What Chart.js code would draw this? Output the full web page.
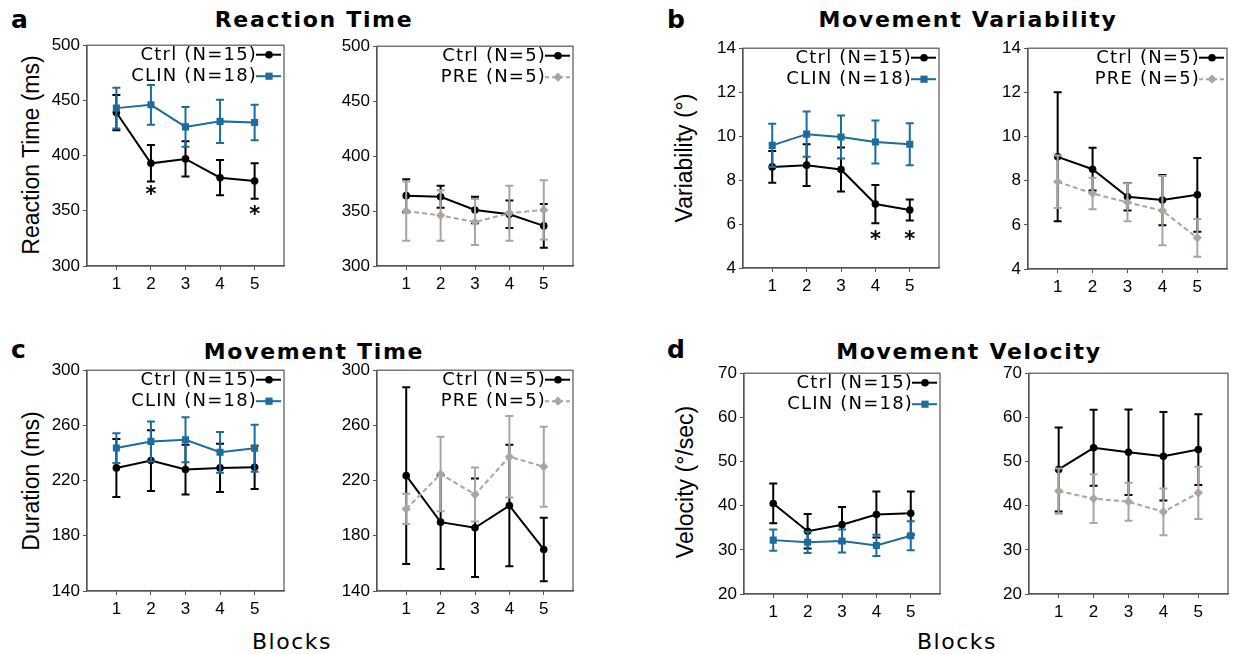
<!DOCTYPE html>
<html>
<head>
<meta charset="utf-8">
<script src="https://cdn.jsdelivr.net/npm/chart.js@4.4.1/dist/chart.umd.min.js"></script>
<style>
  body { margin: 0; background: #fff; width: 1236px; height: 654px; position: relative; overflow: hidden; }
  .box { position: absolute; }
  .lbl { position: absolute; white-space: nowrap; color: #000; }
  .letter { font: bold 25px 'DejaVu Sans', sans-serif; line-height: 25px; }
  .title { font: bold 22px 'DejaVu Sans', sans-serif; letter-spacing: 1.7px; transform: translate(-50%, -50%); }
  .ytitle { font: 23px 'Liberation Sans', Arial, sans-serif; transform: translate(-50%, -50%) rotate(-90deg); }
  .xtitle { font: 22px 'DejaVu Sans', sans-serif; letter-spacing: 1.5px; transform: translate(-50%, -50%); }
</style>
</head>
<body>
<div class="lbl letter" style="left:11px;top:7px">a</div>
<div class="lbl letter" style="left:667px;top:7px">b</div>
<div class="lbl letter" style="left:11px;top:337px">c</div>
<div class="lbl letter" style="left:667px;top:337px">d</div>

<div class="lbl title" style="left:314px;top:19px">Reaction Time</div>
<div class="lbl title" style="left:968px;top:19px">Movement Variability</div>
<div class="lbl title" style="left:314px;top:351px">Movement Time</div>
<div class="lbl title" style="left:969px;top:351px">Movement Velocity</div>

<div class="lbl ytitle" style="left:31px;top:155px">Reaction Time (ms)</div>
<div class="lbl ytitle" style="left:684px;top:158px">Variability (°)</div>
<div class="lbl ytitle" style="left:31px;top:481px">Duration (ms)</div>
<div class="lbl ytitle" style="left:685px;top:482px">Velocity (°/sec)</div>

<div class="lbl xtitle" style="left:292px;top:641px">Blocks</div>
<div class="lbl xtitle" style="left:957px;top:641px">Blocks</div>

<script>
// x categories
const blocks = [1, 2, 3, 4, 5];

// tick labels
const rtTicks = [300, 350, 400, 450, 500];
const varTicks = [4, 6, 8, 10, 12, 14];
const durTicks = [140, 180, 220, 260, 300];
const velTicks = [20, 30, 40, 50, 60, 70];

// a - reaction time (ms), mean and error
const rtCtrl = [439, 393, 397, 380, 377];
const rtCtrlErr = [16, 16.5, 16, 16, 16];
const rtClin = [443, 446, 426, 431, 430];
const rtClinErr = [18.5, 18, 18, 19.5, 16];
const rtCtrl5 = [364, 363, 351, 347, 336.5];
const rtCtrl5Err = [15, 10, 12, 12.5, 20];
const rtPre = [350, 346, 340, 348, 351];
const rtPreErr = [27, 23, 21, 25, 27];
const rtStarBlocks = [2, 5];
const rtStarVals = [370, 352];

// b - movement variability (deg)
const varCtrl = [8.6, 8.68, 8.48, 6.91, 6.64];
const varCtrlErr = [0.72, 0.95, 1.0, 0.87, 0.48];
const varClin = [9.58, 10.09, 9.96, 9.73, 9.63];
const varClinErr = [0.98, 1.03, 0.98, 0.98, 0.96];
const varCtrl5 = [9.08, 8.52, 7.27, 7.12, 7.36];
const varCtrl5Err = [2.92, 0.97, 0.62, 1.14, 1.67];
const varPre = [7.95, 7.42, 7.02, 6.64, 5.41];
const varPreErr = [1.19, 0.71, 0.86, 1.57, 0.86];
const varStarBlocks = [4, 5];
const varStarVals = [5.55, 5.55];

// c - movement time (ms)
const durCtrl = [229.2, 234.5, 228, 229.2, 229.6];
const durCtrlErr = [21, 22, 18, 17.5, 15.6];
const durClin = [243.6, 248.4, 249.6, 240.5, 243.4];
const durClinErr = [10.8, 14.5, 16.3, 14.8, 17];
const durCtrl5 = [223.6, 189.9, 185.8, 201.9, 170.1];
const durCtrl5Err = [64, 34, 35.7, 44, 23];
const durPre = [199.5, 224.8, 209.9, 237.3, 230.1];
const durPreErr = [11, 27, 19.6, 29.5, 29];

// d - movement velocity (deg/sec)
const velCtrl = [40.5, 34.2, 35.7, 38, 38.3];
const velCtrlErr = [4.5, 3.9, 4, 5.2, 4.9];
const velClin = [32.2, 31.7, 32.0, 31.0, 33.2];
const velClinErr = [2.4, 2.4, 2.6, 2.4, 3.3];
const velCtrl5 = [48.2, 53.1, 52.1, 51.2, 52.7];
const velCtrl5Err = [9.5, 8.6, 9.7, 10, 8];
const velPre = [43.3, 41.6, 40.9, 38.6, 42.9];
const velPreErr = [5.1, 5.5, 4.3, 5.3, 5.9];

const BLACK = '#000000';
const BLUE = '#1c6c9c';
const GRAY = '#aca49f';
const AXIS = '#555555';

Chart.defaults.font.family = "'Liberation Sans', Arial, sans-serif";
Chart.defaults.font.size = 17;
Chart.defaults.color = '#000';

// space around the plot box inside each canvas
const PAD_L = 48, PAD_T = 12, PAD_R = 8, PAD_B = 34;

function drawMarker(ctx, style, x, y, color) {
  ctx.save();
  ctx.fillStyle = color;
  ctx.beginPath();
  if (style === 'circle') {
    ctx.arc(x, y, 3.8, 0, Math.PI * 2);
  } else if (style === 'rect') {
    ctx.rect(x - 3.6, y - 3.6, 7.2, 7.2);
  } else {
    ctx.moveTo(x, y - 4.6); ctx.lineTo(x + 4.6, y); ctx.lineTo(x, y + 4.6); ctx.lineTo(x - 4.6, y);
    ctx.closePath();
  }
  ctx.fill();
  ctx.restore();
}

// error bars, drawn under each dataset's line
const errorBars = {
  id: 'errorBars',
  beforeDatasetDraw(chart, args) {
    const ds = chart.data.datasets[args.index];
    if (!ds.err) return;
    const { ctx } = chart;
    const xs = chart.scales.x, ys = chart.scales.y;
    ctx.save();
    ctx.strokeStyle = ds.borderColor;
    ctx.lineWidth = 2;
    ds.data.forEach((p, i) => {
      const x = xs.getPixelForValue(p.x);
      const y1 = ys.getPixelForValue(p.y + ds.err[i]);
      const y2 = ys.getPixelForValue(p.y - ds.err[i]);
      ctx.beginPath();
      ctx.moveTo(x, y1); ctx.lineTo(x, y2);
      ctx.moveTo(x - 4, y1); ctx.lineTo(x + 4, y1);
      ctx.moveTo(x - 4, y2); ctx.lineTo(x + 4, y2);
      ctx.stroke();
    });
    ctx.restore();
  },
};

// frame, legend and significance stars
const decorations = {
  id: 'decorations',
  afterDraw(chart, args, opts) {
    const { ctx, chartArea: a } = chart;
    ctx.save();
    ctx.strokeStyle = AXIS;
    ctx.lineWidth = 1.2;
    ctx.strokeRect(a.left, a.top, a.right - a.left, a.bottom - a.top);

    (opts.rows || []).forEach((row, i) => {
      const y = a.top + 9.5 + i * 21.5;
      ctx.font = "18px 'DejaVu Sans', sans-serif";
      ctx.letterSpacing = '1.2px';
      ctx.fillStyle = '#000';
      ctx.textAlign = 'right';
      ctx.textBaseline = 'middle';
      ctx.fillText(row.text, a.right - 27, y + 0.5);
      ctx.letterSpacing = '0px';
      ctx.strokeStyle = row.color;
      ctx.lineWidth = 2;
      ctx.setLineDash(row.dash ? [4, 3] : []);
      ctx.beginPath();
      ctx.moveTo(a.right - 28, y); ctx.lineTo(a.right - 3, y);
      ctx.stroke();
      ctx.setLineDash([]);
      drawMarker(ctx, row.style, a.right - 15, y, row.color);
    });

    const stars = opts.stars;
    if (stars) {
      ctx.font = "bold 21px 'DejaVu Sans', sans-serif";
      ctx.fillStyle = '#000';
      ctx.textAlign = 'center';
      ctx.textBaseline = 'alphabetic';
      stars.blocks.forEach((b, i) => {
        const x = chart.scales.x.getPixelForValue(b);
        const y = chart.scales.y.getPixelForValue(stars.vals[i]);
        ctx.fillText('*', x, y + 12);
      });
    }
    ctx.restore();
  },
};

function series(label, ys, errs, color, style, dash, order) {
  return {
    label,
    data: blocks.map((b, i) => ({ x: b, y: ys[i] })),
    err: errs,
    borderColor: color,
    backgroundColor: color,
    borderWidth: 2,
    borderDash: dash ? [5, 3] : [],
    pointStyle: style,
    pointRadius: style === 'circle' ? 3.8 : (style === 'rect' ? 5 : 4.6),
    pointBorderWidth: 0,
    pointBackgroundColor: color,
    tension: 0,
    order,
  };
}

function panel(box, yTicks, datasets, rows, stars) {
  const [l, t, r, b] = box;
  const wrap = document.createElement('div');
  wrap.className = 'box';
  wrap.style.left = (l - PAD_L) + 'px';
  wrap.style.top = (t - PAD_T) + 'px';
  wrap.style.width = (r - l + PAD_L + PAD_R) + 'px';
  wrap.style.height = (b - t + PAD_T + PAD_B) + 'px';
  const cv = document.createElement('canvas');
  wrap.appendChild(cv);
  document.body.appendChild(wrap);

  return new Chart(cv, {
    type: 'line',
    data: { datasets },
    options: {
      responsive: true,
      maintainAspectRatio: false,
      animation: false,
      layout: { padding: { top: PAD_T, right: PAD_R, left: 0, bottom: 0 } },
      scales: {
        x: {
          type: 'linear',
          min: 0.15,
          max: 5.85,
          afterBuildTicks: (s) => { s.ticks = blocks.map(v => ({ value: v })); },
          afterFit: (s) => { s.height = PAD_B; },
          border: { color: AXIS, width: 1.2 },
          grid: { drawOnChartArea: false, drawTicks: true, tickLength: 4, color: AXIS },
          ticks: { padding: 4, color: '#000', maxRotation: 0 },
        },
        y: {
          min: yTicks[0],
          max: yTicks[yTicks.length - 1],
          afterBuildTicks: (s) => { s.ticks = yTicks.map(v => ({ value: v })); },
          afterFit: (s) => { s.width = PAD_L; },
          border: { color: AXIS, width: 1.2 },
          grid: { drawOnChartArea: false, drawTicks: true, tickLength: 4, color: AXIS },
          ticks: { padding: 3, color: '#000' },
        },
      },
      plugins: {
        legend: { display: false },
        tooltip: { enabled: false },
        decorations: { rows, stars },
      },
    },
    plugins: [errorBars, decorations],
  });
}

const ctrl15Row = { text: 'Ctrl (N=15)', color: BLACK, style: 'circle' };
const clinRow = { text: 'CLIN (N=18)', color: BLUE, style: 'rect' };
const ctrl5Row = { text: 'Ctrl (N=5)', color: BLACK, style: 'circle' };
const preRow = { text: 'PRE (N=5)', color: GRAY, style: 'rectRot', dash: true };

// a
panel([87, 44, 284, 266], rtTicks, [
  series('Ctrl (N=15)', rtCtrl, rtCtrlErr, BLACK, 'circle', false, 2),
  series('CLIN (N=18)', rtClin, rtClinErr, BLUE, 'rect', false, 1),
], [ctrl15Row, clinRow], { blocks: rtStarBlocks, vals: rtStarVals });

panel([377, 45, 573, 266], rtTicks, [
  series('Ctrl (N=5)', rtCtrl5, rtCtrl5Err, BLACK, 'circle', false, 2),
  series('PRE (N=5)', rtPre, rtPreErr, GRAY, 'rectRot', true, 1),
], [ctrl5Row, preRow]);

// b
panel([743, 47, 939, 268], varTicks, [
  series('Ctrl (N=15)', varCtrl, varCtrlErr, BLACK, 'circle', false, 2),
  series('CLIN (N=18)', varClin, varClinErr, BLUE, 'rect', false, 1),
], [ctrl15Row, clinRow], { blocks: varStarBlocks, vals: varStarVals });

panel([1028, 47, 1227, 269], varTicks, [
  series('Ctrl (N=5)', varCtrl5, varCtrl5Err, BLACK, 'circle', false, 2),
  series('PRE (N=5)', varPre, varPreErr, GRAY, 'rectRot', true, 1),
], [ctrl5Row, preRow]);

// c
panel([87, 369, 284, 591], durTicks, [
  series('Ctrl (N=15)', durCtrl, durCtrlErr, BLACK, 'circle', false, 2),
  series('CLIN (N=18)', durClin, durClinErr, BLUE, 'rect', false, 1),
], [ctrl15Row, clinRow]);

panel([377, 369, 573, 591], durTicks, [
  series('Ctrl (N=5)', durCtrl5, durCtrl5Err, BLACK, 'circle', false, 2),
  series('PRE (N=5)', durPre, durPreErr, GRAY, 'rectRot', true, 1),
], [ctrl5Row, preRow]);

// d
panel([744, 372, 940, 594], velTicks, [
  series('Ctrl (N=15)', velCtrl, velCtrlErr, BLACK, 'circle', false, 2),
  series('CLIN (N=18)', velClin, velClinErr, BLUE, 'rect', false, 1),
], [ctrl15Row, clinRow]);

panel([1029, 372, 1228, 594], velTicks, [
  series('Ctrl (N=5)', velCtrl5, velCtrl5Err, BLACK, 'circle', false, 2),
  series('PRE (N=5)', velPre, velPreErr, GRAY, 'rectRot', true, 1),
], []);
</script>
</body>
</html>
